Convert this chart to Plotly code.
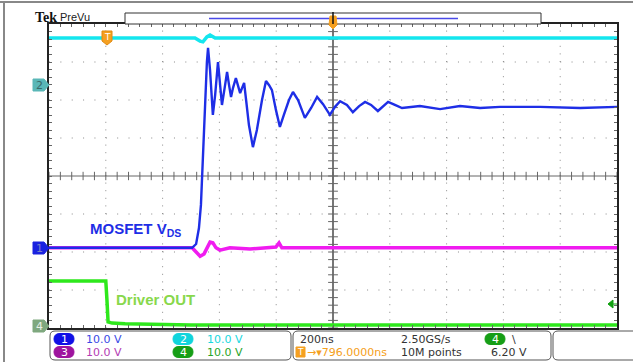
import plotly.graph_objects as go

# ---------------- data (time in ns, vertical in screen divisions) ----------------
# CH1 blue  : MOSFET V_DS
ch1_t = [-1000, -496, -482, -472, -465, -458, -451, -444, -440, -433, -423, -415, -405,
         -398, -391, -380, -373, -366, -359, -352, -342, -335, -327, -320, -313, -306,
         -296, -282, -268, -250, -236, -225, -215, -201, -187, -173, -155, -141, -123,
         -99, -77, -56, -35, -11, 7, 25, 49, 70, 92, 113, 134, 158, 176, 194, 218, 243,
         306, 377, 447, 518, 588, 729, 870, 1000]
ch1_v = [-1.89, -1.89, -1.79, -1.37, -0.76, 0.42, 2.0, 3.0, 3.37, 2.79, 1.61, 2.13, 3.0,
         2.39, 1.87, 2.39, 2.74, 2.39, 2.08, 2.32, 2.58, 2.39, 2.18, 2.32, 2.45, 2.0, 1.34,
         0.76, 1.21, 2.0, 2.5, 2.39, 2.26, 1.74, 1.29, 1.61, 2.0, 2.21, 2.0, 1.53, 1.79,
         2.08, 1.89, 1.61, 1.82, 1.97, 1.87, 1.68, 1.84, 1.95, 1.87, 1.71, 1.84, 1.95,
         1.87, 1.79, 1.84, 1.76, 1.84, 1.79, 1.82, 1.82, 1.79, 1.82]
# CH2 cyan
ch2_t = [-1000, -486, -468, -458, -444, -433, -415, 1000]
ch2_v = [3.63, 3.63, 3.55, 3.53, 3.66, 3.71, 3.63, 3.63]
# CH3 magenta
ch3_t = [-1000, -496, -482, -468, -454, -444, -433, -423, -412, -398, -363, -292, -222,
         -201, -190, -180, -116, 1000]
ch3_v = [-1.89, -1.89, -2.0, -2.11, -2.05, -1.89, -1.74, -1.76, -1.89, -1.95, -1.89,
         -1.92, -1.89, -1.87, -1.76, -1.89, -1.89, -1.89]
# CH4 green : Driver OUT
ch4_t = [-1000, -800, -796, -792, -778, -732, -500, 0, 500, 1000]
ch4_v = [-2.76, -2.76, -3.26, -3.84, -3.87, -3.89, -3.92, -3.92, -3.92, -3.92]

scale_labels_1 = ["10.0 V", "10.0 V"]   # ch1, ch2
scale_labels_2 = ["10.0 V", "10.0 V"]   # ch3, ch4
horiz_text = ["200ns", "2.50GS/s", "6.20 V"]
trig_text = ["796.0000ns", "10M points"]

W, H = 633, 362
L, R, T, B = 49, 617, 24, 328


def fx(p):
    return (p - L) / (R - L)


def fy(p):
    return (B - p) / (B - T)


fig = go.Figure()

# grid
shapes = []
for xv in [-800, -600, -400, -200, 200, 400, 600, 800]:
    shapes.append(dict(type="line", xref="x", yref="y", x0=xv, x1=xv, y0=-4, y1=4,
                       line=dict(color="#8a8a8a", width=1, dash="1px,6.6px"), layer="below"))
for yv in [-3, -2, -1, 1, 2, 3]:
    shapes.append(dict(type="line", xref="x", yref="y", x0=-1000, x1=1000, y0=yv, y1=yv,
                       line=dict(color="#8a8a8a", width=1, dash="1px,10.36px"), layer="below"))
shapes.append(dict(type="line", xref="x", yref="y", x0=0, x1=0, y0=-4, y1=4,
                   line=dict(color="#777777", width=2), layer="below"))
shapes.append(dict(type="line", xref="x", yref="y", x0=-1000, x1=1000, y0=0, y1=0,
                   line=dict(color="#666666", width=1), layer="below"))

# center-line ticks
tx = [-1000 + 40 * i for i in range(51)]
ty = [-4 + 0.2 * i for i in range(41)]
fig.add_trace(go.Scatter(x=tx, y=[0] * len(tx), mode="markers", hoverinfo="skip",
                         marker=dict(symbol="line-ns", size=6, line=dict(color="#666", width=1))))
fig.add_trace(go.Scatter(x=[0] * len(ty), y=ty, mode="markers", hoverinfo="skip",
                         marker=dict(symbol="line-ew", size=7, line=dict(color="#666", width=1))))

# traces
fig.add_trace(go.Scatter(x=ch3_t, y=ch3_v, mode="lines", line=dict(color="#f01cf0", width=3.5)))
fig.add_trace(go.Scatter(x=ch1_t, y=ch1_v, mode="lines", line=dict(color="#1e2ee6", width=2.4)))
fig.add_trace(go.Scatter(x=ch2_t, y=ch2_v, mode="lines", line=dict(color="#14e6ee", width=3.5)))
fig.add_trace(go.Scatter(x=ch4_t, y=ch4_v, mode="lines", line=dict(color="#2ee81c", width=3.5)))

ann = []


def label(x, y, s, col, size=11, family="DejaVu Sans", xanchor="left"):
    ann.append(dict(x=fx(x), y=fy(y), xref="paper", yref="paper", xanchor=xanchor,
                    yanchor="middle", text=s, showarrow=False,
                    font=dict(family=family, size=size, color=col)))


# outer frame
shapes.append(dict(type="line", xref="paper", yref="paper", x0=fx(0), x1=fx(633),
                   y0=fy(2), y1=fy(2), line=dict(color="#888", width=2)))
shapes.append(dict(type="line", xref="paper", yref="paper", x0=fx(4), x1=fx(4),
                   y0=fy(2), y1=fy(362), line=dict(color="#888", width=2)))

# top record bar
shapes.append(dict(type="rect", xref="paper", yref="paper", x0=fx(125), x1=fx(541),
                   y0=fy(24), y1=fy(13), line=dict(color="#333", width=1), fillcolor="white"))
shapes.append(dict(type="line", xref="paper", yref="paper", x0=fx(209), x1=fx(458),
                   y0=fy(18.5), y1=fy(18.5), line=dict(color="#4a4ae8", width=1.5)))
shapes.append(dict(type="path", xref="paper", yref="paper",
                   path=f"M {fx(330)} {fy(16)} L {fx(336)} {fy(16)} L {fx(337)} {fy(25)} "
                        f"L {fx(333)} {fy(29)} L {fx(329)} {fy(25)} Z",
                   fillcolor="#f5a020", line=dict(color="#f5a020", width=1)))
shapes.append(dict(type="line", xref="paper", yref="paper", x0=fx(333), x1=fx(333),
                   y0=fy(12), y1=fy(24), line=dict(color="#111", width=1.5)))

# trigger position "T" marker
shapes.append(dict(type="path", xref="paper", yref="paper",
                   path=f"M {fx(102)} {fy(31)} L {fx(112)} {fy(31)} L {fx(112)} {fy(41)} "
                        f"L {fx(107)} {fy(45)} L {fx(102)} {fy(41)} Z",
                   fillcolor="#f5a020", line=dict(color="#e08a10", width=1)))
label(107, 37, "T", "white", size=9, xanchor="center")

# trigger level arrow (right)
shapes.append(dict(type="path", xref="paper", yref="paper",
                   path=f"M {fx(608)} {fy(304)} L {fx(613)} {fy(300)} L {fx(613)} {fy(308)} Z",
                   fillcolor="#10a010", line=dict(color="#10a010", width=1)))
shapes.append(dict(type="line", xref="paper", yref="paper", x0=fx(612), x1=fx(617),
                   y0=fy(304), y1=fy(304), line=dict(color="#10a010", width=1)))


# channel markers on the left
def ch_marker(yc, fill, txtcol, lab):
    shapes.append(dict(type="path", xref="paper", yref="paper",
                       path=f"M {fx(33)} {fy(yc-6)} L {fx(44)} {fy(yc-6)} L {fx(49)} {fy(yc)} "
                            f"L {fx(44)} {fy(yc+6)} L {fx(33)} {fy(yc+6)} Z",
                       fillcolor=fill, line=dict(color=fill, width=1)))
    label(39.5, yc, lab, txtcol, size=11, xanchor="center")


ch_marker(85, "#5ab7b7", "#3a6a6a", "2")
ch_marker(248, "#1a22e0", "#7a80c8", "1")
ch_marker(326, "#7fa87f", "#e8f0e8", "4")

# labels on chart
label(88, 230, "<b>MOSFET V<sub>DS</sub></b>", "#1e2ee6", size=15, family="Liberation Sans")
label(114, 299, "<b>Driver OUT</b>", "#88d84c", size=15, family="Liberation Sans")
label(33, 17, "<b>Tek</b>", "#111", size=14, family="Liberation Serif")
label(58, 17, "PreVu", "#222", size=11, family="Liberation Sans")


# bottom panels
def rpanel(x0, x1, y0, y1, r=5):
    p = (f"M {fx(x0+r)} {fy(y0)} L {fx(x1-r)} {fy(y0)} Q {fx(x1)} {fy(y0)} {fx(x1)} {fy(y0+r)} "
         f"L {fx(x1)} {fy(y1-r)} Q {fx(x1)} {fy(y1)} {fx(x1-r)} {fy(y1)} "
         f"L {fx(x0+r)} {fy(y1)} Q {fx(x0)} {fy(y1)} {fx(x0)} {fy(y1-r)} "
         f"L {fx(x0)} {fy(y0+r)} Q {fx(x0)} {fy(y0)} {fx(x0+r)} {fy(y0)} Z")
    shapes.append(dict(type="path", xref="paper", yref="paper", path=p,
                       line=dict(color="#555", width=1)))


rpanel(50, 291, 331, 360)
rpanel(293, 551, 331, 360)
rpanel(553, 640, 331, 360)


def pill(xc, yc, fill, lab):
    shapes.append(dict(type="path", xref="paper", yref="paper",
                       path=(f"M {fx(xc-4)} {fy(yc-5.5)} L {fx(xc+4)} {fy(yc-5.5)} "
                             f"Q {fx(xc+10)} {fy(yc-5.5)} {fx(xc+10)} {fy(yc)} "
                             f"Q {fx(xc+10)} {fy(yc+5.5)} {fx(xc+4)} {fy(yc+5.5)} "
                             f"L {fx(xc-4)} {fy(yc+5.5)} Q {fx(xc-10)} {fy(yc+5.5)} {fx(xc-10)} {fy(yc)} "
                             f"Q {fx(xc-10)} {fy(yc-5.5)} {fx(xc-4)} {fy(yc-5.5)} Z"),
                       fillcolor=fill, line=dict(color=fill, width=1)))
    label(xc, yc, lab, "white", size=11, xanchor="center")


pill(64, 339, "#1010e6", "1")
pill(64, 352, "#9e149e", "3")
pill(183, 339, "#10d4dc", "2")
pill(183, 352, "#169e16", "4")
pill(495, 339, "#169e16", "4")

label(84, 339, scale_labels_1[0], "#3a4ae6")
label(205, 339, scale_labels_1[1], "#18d8e0")
label(84, 352, scale_labels_2[0], "#b43cb4")
label(205, 352, scale_labels_2[1], "#28a428")
label(298, 339, horiz_text[0], "#333")
label(399, 339, horiz_text[1], "#333")
label(510, 339, "\\", "#333")
label(489, 352, horiz_text[2], "#333")
label(399, 352, trig_text[1], "#333")
# trigger "T" + arrow
shapes.append(dict(type="rect", xref="paper", yref="paper", x0=fx(296), x1=fx(305),
                   y0=fy(357), y1=fy(347), fillcolor="#f5a020", line=dict(color="#f5a020", width=1)))
label(300.5, 352, "T", "white", size=9, xanchor="center")
label(305, 352, "→▾" + trig_text[0], "#f5a020")

fig.update_layout(
    width=W, height=H,
    margin=dict(l=L, r=W - R, t=T, b=H - B, pad=0),
    paper_bgcolor="white", plot_bgcolor="white",
    showlegend=False,
    shapes=shapes, annotations=ann,
    xaxis=dict(range=[-1000, 1000], showgrid=False, zeroline=False, showticklabels=False,
               showline=True, linecolor="#222", linewidth=1.5, mirror="ticks",
               ticks="inside", tick0=-1000, dtick=40, ticklen=3, tickcolor="#666",
               fixedrange=True),
    yaxis=dict(range=[-4, 4], showgrid=False, zeroline=False, showticklabels=False,
               showline=True, linecolor="#222", linewidth=1.5, mirror="ticks",
               ticks="inside", tick0=-4, dtick=0.2, ticklen=3, tickcolor="#666",
               fixedrange=True),
)

fig.write_html("out.html", config={"displayModeBar": False},
               post_script="document.body.style.margin='0px';document.body.style.overflow='hidden';")
